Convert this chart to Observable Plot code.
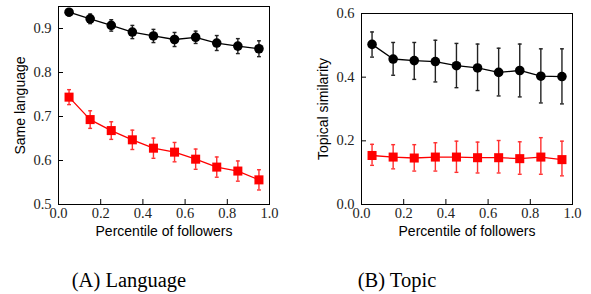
<!DOCTYPE html>
<html>
<head>
<meta charset="utf-8">
<script src="https://cdn.jsdelivr.net/npm/d3@7"></script>
<script src="https://cdn.jsdelivr.net/npm/@observablehq/plot@0.6"></script>
<style>
  html, body { margin: 0; padding: 0; background: #fff; }
  #wrap { position: relative; width: 591px; height: 294px; overflow: hidden; background: #fff; }
  .cap { position: absolute; top: 270px; font-family: "Liberation Serif", "Times New Roman", serif; font-size: 20.5px; line-height: 1; color: #000; white-space: nowrap; transform: translateX(-50%); }
</style>
</head>
<body>
<div id="wrap"></div>
<script>
// ---- data ----
const percentile = [0.05, 0.15, 0.25, 0.35, 0.45, 0.55, 0.65, 0.75, 0.85, 0.95];

// (A) Language
const langBlack = [0.937, 0.922, 0.907, 0.892, 0.883, 0.875, 0.880, 0.867, 0.860, 0.854];
const langBlackErr = [0.008, 0.011, 0.013, 0.015, 0.015, 0.016, 0.014, 0.017, 0.017, 0.018];
const langRed = [0.744, 0.693, 0.668, 0.647, 0.628, 0.619, 0.603, 0.585, 0.576, 0.556];
const langRedErr = [0.017, 0.020, 0.020, 0.022, 0.023, 0.022, 0.023, 0.023, 0.023, 0.023];

// (B) Topic
const topicBlack = [0.503, 0.457, 0.452, 0.449, 0.436, 0.429, 0.415, 0.421, 0.403, 0.402];
const topicBlackLo = [0.463, 0.406, 0.393, 0.385, 0.367, 0.358, 0.341, 0.338, 0.319, 0.316];
const topicBlackHi = [0.542, 0.509, 0.509, 0.516, 0.506, 0.504, 0.491, 0.504, 0.489, 0.489];
const topicRed = [0.154, 0.149, 0.146, 0.149, 0.149, 0.147, 0.147, 0.144, 0.149, 0.141];
const topicRedLo = [0.123, 0.112, 0.105, 0.105, 0.101, 0.099, 0.099, 0.095, 0.095, 0.090];
const topicRedHi = [0.189, 0.188, 0.188, 0.194, 0.199, 0.196, 0.201, 0.197, 0.210, 0.199];

const xTicks = [0, 0.2, 0.4, 0.6, 0.8, 1.0];
const langYTicks = [0.5, 0.6, 0.7, 0.8, 0.9];
const topicYTicks = [0.0, 0.2, 0.4, 0.6];

const xLabel = "Percentile of followers";
const captions = ["(A) Language", "(B) Topic"];

// ---- helpers ----
const SERIF = "'Liberation Serif', 'DejaVu Serif', serif";
const SANS = "'Liberation Sans', Arial, Helvetica, sans-serif";
const fmt = d3.format(".1f");

const capSymbol = {
  draw(ctx, size) {
    const w = Math.sqrt(size) / 2;
    ctx.moveTo(-w, 0);
    ctx.lineTo(w, 0);
  }
};

function rows(y, lo, hi) {
  return percentile.map((x, i) => ({x, y: y[i], lo: lo[i], hi: hi[i]}));
}

function seriesMarks(data, color, symbol, r, errColor) {
  return [
    Plot.ruleX(data, {x: "x", y1: "lo", y2: "hi", stroke: errColor, strokeWidth: 1.4}),
    Plot.dot(data, {x: "x", y: "lo", symbol: capSymbol, r: 2.2, stroke: errColor, strokeWidth: 1.4, fill: "none"}),
    Plot.dot(data, {x: "x", y: "hi", symbol: capSymbol, r: 2.2, stroke: errColor, strokeWidth: 1.4, fill: "none"}),
    Plot.line(data, {x: "x", y: "y", stroke: color, strokeWidth: 1.3}),
    Plot.dot(data, {x: "x", y: "y", symbol, r, fill: color, stroke: "none"})
  ];
}

function panel({left, marginTop, yDomain, yTicks, yLabel, series}) {
  const chart = Plot.plot({
    width: 290,
    height: 250,
    marginLeft: 58,
    marginRight: 21,
    marginTop,
    marginBottom: 46,
    style: {background: "white", overflow: "visible"},
    x: {domain: [0, 1], axis: null},
    y: {domain: yDomain, axis: null},
    marks: [
      ...series,
      Plot.frame({stroke: "black", strokeWidth: 1}),
      Plot.axisX({ticks: xTicks, tickSize: -5, text: null, label: null, stroke: "black"}),
      Plot.axisY({ticks: yTicks, tickSize: -5, text: null, label: null, stroke: "black"}),
      Plot.text(xTicks, {x: d => d, frameAnchor: "bottom", dy: 13, text: d => fmt(d),
                         fontFamily: SERIF, fontSize: 14.5, fill: "#222"}),
      Plot.text(yTicks, {y: d => d, frameAnchor: "left", dx: -7, textAnchor: "end", text: d => fmt(d),
                         fontFamily: SERIF, fontSize: 14.5, fill: "#222"}),
      Plot.text([xLabel], {frameAnchor: "bottom", dy: 31, fontFamily: SANS, fontSize: 14, fill: "black"}),
      Plot.text([yLabel], {frameAnchor: "left", dx: -38, rotate: -90, textAnchor: "middle",
                           fontFamily: SANS, fontSize: 14, fill: "black"})
    ]
  });
  chart.style.position = "absolute";
  chart.style.left = left + "px";
  chart.style.top = "0px";
  return chart;
}

const wrap = document.getElementById("wrap");

wrap.appendChild(panel({
  left: 0,
  marginTop: 6,
  yDomain: [0.5, 0.95],
  yTicks: langYTicks,
  yLabel: "Same language",
  series: [
    ...seriesMarks(rows(langBlack, langBlack.map((v, i) => v - langBlackErr[i]), langBlack.map((v, i) => v + langBlackErr[i])), "black", "circle", 4.8, "#222"),
    ...seriesMarks(rows(langRed, langRed.map((v, i) => v - langRedErr[i]), langRed.map((v, i) => v + langRedErr[i])), "#ff0000", "square", 5.1, "#ff3030")
  ]
}));

wrap.appendChild(panel({
  left: 303,
  marginTop: 13,
  yDomain: [0, 0.6],
  yTicks: topicYTicks,
  yLabel: "Topical similarity",
  series: [
    ...seriesMarks(rows(topicBlack, topicBlackLo, topicBlackHi), "black", "circle", 4.8, "#222"),
    ...seriesMarks(rows(topicRed, topicRedLo, topicRedHi), "#ff0000", "square", 5.1, "#ff3030")
  ]
}));

const capX = [129, 397];
captions.forEach((t, i) => {
  const d = document.createElement("div");
  d.className = "cap";
  d.style.left = capX[i] + "px";
  d.textContent = t;
  wrap.appendChild(d);
});
</script>
</body>
</html>
